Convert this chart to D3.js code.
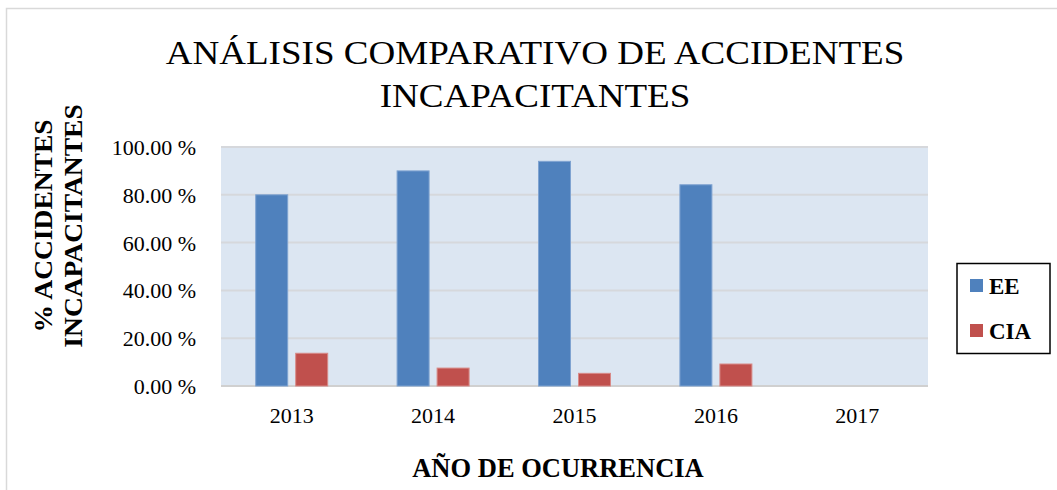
<!DOCTYPE html>
<html>
<head>
<meta charset="utf-8">
<script src="https://cdn.jsdelivr.net/npm/d3@7"></script>
<style>
  body { margin: 0; background: #fff; }
  text { font-family: "Liberation Serif", "Times New Roman", serif; fill: #000; }
</style>
</head>
<body>
<div id="canvas"></div>
<script>
// categories and series values
var years = ["2013", "2014", "2015", "2016", "2017"];
var seriesNames = ["EE", "CIA"];
var eeValues = [80.0, 90.0, 94.0, 84.2, null];
var ciaValues = [13.7, 7.5, 5.3, 9.2, null];
var yTicks = [0, 20, 40, 60, 80, 100];
var colors = ["#4F81BD", "#C0504D"];

var W = 1057, H = 490;
var plot = {left: 221, right: 928, top: 147, bottom: 386};

var svg = d3.select("#canvas").append("svg")
  .attr("width", W)
  .attr("height", H);

// outer chart border
svg.append("rect")
  .attr("x", 6.5).attr("y", 8.5)
  .attr("width", W + 10).attr("height", H + 10)
  .attr("fill", "#fff")
  .attr("stroke", "#d9d9d9")
  .attr("stroke-width", 1.5);

// scales
var x = d3.scaleBand().domain(years).range([plot.left, plot.right]);
var groupW = 72;
var xs = d3.scaleBand().domain(seriesNames).range([0, groupW]).paddingInner(0.2);
var y = d3.scaleLinear().domain([0, 100]).range([plot.bottom, plot.top]);

// plot background
svg.append("rect")
  .attr("x", plot.left).attr("y", plot.top)
  .attr("width", plot.right - plot.left).attr("height", plot.bottom - plot.top)
  .attr("fill", "#dce6f2");

// gridlines
svg.append("g").selectAll("line")
  .data(yTicks)
  .enter().append("line")
  .attr("x1", plot.left).attr("x2", plot.right)
  .attr("y1", function(d) { return y(d); })
  .attr("y2", function(d) { return y(d); })
  .attr("stroke", function(d) { return d === 0 ? "#d0d0d0" : "#d6d8dc"; })
  .attr("stroke-width", 2);

// y axis labels
var yAxis = d3.axisLeft(y)
  .tickValues(yTicks)
  .tickSize(0)
  .tickPadding(25)
  .tickFormat(function(d) { return d3.format(".2f")(d) + " %"; });
var gy = svg.append("g")
  .attr("transform", "translate(" + plot.left + ",0)")
  .call(yAxis);
gy.select(".domain").remove();
gy.selectAll("text")
  .style("font-family", "Liberation Serif")
  .style("font-size", "22px")
  .attr("dy", "0.34em");

// x axis labels
var xAxis = d3.axisBottom(x).tickSize(0).tickPadding(21);
var gx = svg.append("g")
  .attr("transform", "translate(0," + plot.bottom + ")")
  .call(xAxis);
gx.select(".domain").remove();
gx.selectAll("text")
  .style("font-family", "Liberation Serif")
  .style("font-size", "22px");

// bars
var rows = years.map(function(yr, i) {
  return {year: yr, values: [
    {key: "EE", value: eeValues[i]},
    {key: "CIA", value: ciaValues[i]}
  ]};
});

var groups = svg.append("g").selectAll("g")
  .data(rows)
  .enter().append("g")
  .attr("transform", function(d) {
    return "translate(" + (x(d.year) + (x.bandwidth() - groupW) / 2) + ",0)";
  });

groups.selectAll("rect")
  .data(function(d) { return d.values.filter(function(v) { return v.value != null; }); })
  .enter().append("rect")
  .attr("x", function(d) { return xs(d.key); })
  .attr("y", function(d) { return y(d.value); })
  .attr("width", xs.bandwidth())
  .attr("height", function(d) { return y(0) - y(d.value); })
  .attr("fill", function(d) { return colors[seriesNames.indexOf(d.key)]; })
  .attr("stroke", function(d) { return d.key === "EE" ? "#7fa3d1" : "#d88a88"; })
  .attr("stroke-width", 1);

// title (slightly stretched horizontally like the original)
var title = svg.append("text")
  .attr("transform", "translate(535,0) scale(1.09,1)")
  .attr("text-anchor", "middle")
  .style("font-size", "34px");
title.append("tspan").attr("x", 0).attr("y", 64).text("ANÁLISIS COMPARATIVO DE ACCIDENTES");
title.append("tspan").attr("x", 0).attr("y", 107).text("INCAPACITANTES");

// y axis title
var yt = svg.append("text")
  .attr("transform", "translate(0,226) rotate(-90) scale(1.1,1)")
  .attr("text-anchor", "middle")
  .style("font-size", "25px")
  .style("font-weight", "bold");
yt.append("tspan").attr("x", 0).attr("y", 52).text("% ACCIDENTES");
yt.append("tspan").attr("x", 0).attr("y", 82).text("INCAPACITANTES");

// x axis title
svg.append("text")
  .attr("x", 558).attr("y", 477)
  .attr("text-anchor", "middle")
  .style("font-size", "26.5px")
  .style("font-weight", "bold")
  .text("AÑO DE OCURRENCIA");

// legend
var legend = svg.append("g");
legend.append("rect")
  .attr("x", 957).attr("y", 263.5)
  .attr("width", 93).attr("height", 90)
  .attr("fill", "#fff")
  .attr("stroke", "#000")
  .attr("stroke-width", 1.5);
var li = legend.selectAll(".item")
  .data(seriesNames)
  .enter().append("g")
  .attr("class", "item")
  .attr("transform", function(d, i) { return "translate(970," + (279 + i * 45) + ")"; });
li.append("rect")
  .attr("width", 13).attr("height", 13)
  .attr("fill", function(d, i) { return colors[i]; });
li.append("text")
  .attr("x", 19).attr("y", 15)
  .style("font-size", "23px")
  .style("font-weight", "bold")
  .text(function(d) { return d; });
</script>
</body>
</html>
